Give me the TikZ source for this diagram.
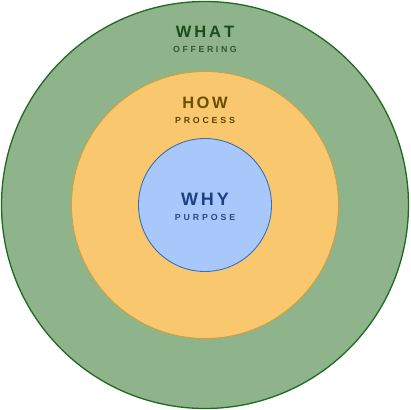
\documentclass[tikz,border=0pt]{standalone}
\usepackage{fontspec}
\setmainfont{Liberation Sans}
\definecolor{outerfill}{HTML}{8FB38B}
\definecolor{outerline}{HTML}{1F6A1F}
\definecolor{midfill}{HTML}{F9C86E}
\definecolor{midline}{HTML}{CDA23A}
\definecolor{innerfill}{HTML}{A8C7FA}
\definecolor{innerline}{HTML}{3D6FB5}
\definecolor{whattext}{HTML}{1B4D1B}
\definecolor{offtext}{HTML}{2F5A2F}
\definecolor{howtext}{HTML}{6B4E00}
\definecolor{proctext}{HTML}{5C4300}
\definecolor{whytext}{HTML}{1C3F85}
\definecolor{purptext}{HTML}{2B4A80}
\tikzset{
  ring/.style={circle, inner sep=0pt, outer sep=0pt},
  title/.style={anchor=base, inner sep=0pt, font=\bfseries\fontsize{16.5}{18}\selectfont},
  sub/.style={anchor=base, inner sep=0pt, font=\bfseries\fontsize{8.8}{10}\selectfont},
}
\begin{document}
\begin{tikzpicture}[x=1pt,y=-1pt]
\useasboundingbox (0,0) rectangle (410,410);
\node[ring, minimum size=407pt, fill=outerfill, draw=outerline, line width=1.3pt] (what) at (205,205) {};
\node[ring, minimum size=267pt, fill=midfill, draw=midline, line width=0.9pt] (how) at (205,205) {};
\node[ring, minimum size=133pt, fill=innerfill, draw=innerline, line width=0.9pt] (why) at (205,205) {};
\node[title, text=whattext] (whatlbl) at (205,37.6) {W\kern3pt H\kern3pt A\kern3pt T};
\node[sub, text=offtext] (offlbl) at (205,52.4) {O\kern2.6pt F\kern2.6pt F\kern2.6pt E\kern2.6pt R\kern2.6pt I\kern2.6pt N\kern2.6pt G};
\node[title, text=howtext] (howlbl) at (205,108.6) {H\kern2.5pt O\kern2.5pt W};
\node[sub, text=proctext] (proclbl) at (205,123.4) {P\kern2.8pt R\kern2.8pt O\kern2.8pt C\kern2.8pt E\kern2.8pt S\kern2.8pt S};
\node[title, font=\bfseries\fontsize{18}{20}\selectfont, text=whytext] (whylbl) at (205,205) {W\kern3pt H\kern3pt Y};
\node[sub, text=purptext] (purplbl) at (205,220) {P\kern2.9pt U\kern2.9pt R\kern2.9pt P\kern2.9pt O\kern2.9pt S\kern2.9pt E};
\end{tikzpicture}
\end{document}
